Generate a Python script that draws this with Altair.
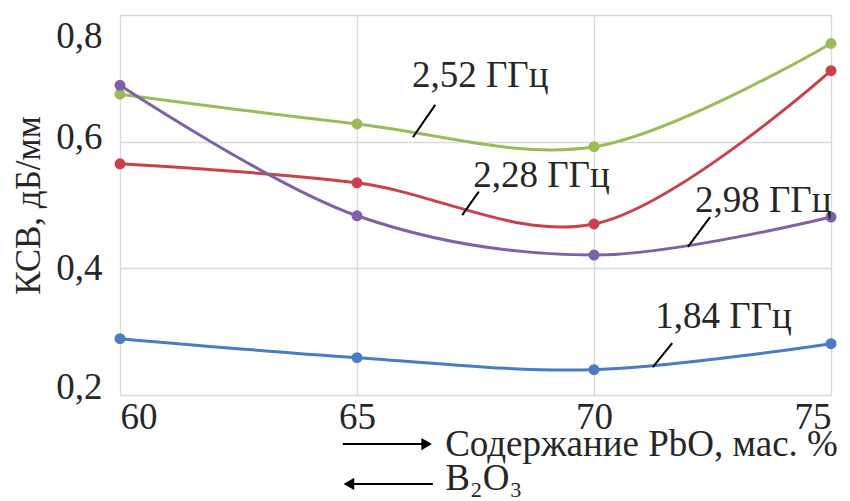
import altair as alt
import pandas as pd

x_vals = [60, 65, 70, 75]
series_names = ["1,84 ГГц", "2,28 ГГц", "2,52 ГГц", "2,98 ГГц"]
s184 = [0.289, 0.259, 0.240, 0.281]
s228 = [0.565, 0.535, 0.470, 0.712]
s252 = [0.675, 0.628, 0.592, 0.755]
s298 = [0.689, 0.483, 0.421, 0.481]
colors = ["#4A7BC4", "#C9414B", "#9BBB59", "#7E62A8"]

rows = []
for name, vals in zip(series_names, [s184, s228, s252, s298]):
    for xv, yv in zip(x_vals, vals):
        rows.append({"x": xv, "y": yv, "s": name})
df = pd.DataFrame(rows)

# series annotations (label position and leader line, data units)
lab_text = ["2,52 ГГц", "2,28 ГГц", "2,98 ГГц", "1,84 ГГц"]
lab_x = [66.16, 67.45, 72.13, 71.29]
lab_y = [0.686, 0.528, 0.489, 0.306]
lead_x1 = [66.65, 67.57, 72.45, 71.65]
lead_y1 = [0.658, 0.521, 0.481, 0.282]
lead_x2 = [66.18, 67.22, 71.98, 71.24]
lead_y2 = [0.607, 0.484, 0.434, 0.244]
labels = pd.DataFrame({"t": lab_text, "x": lab_x, "y": lab_y})
leaders = pd.DataFrame({"x": lead_x1, "y": lead_y1, "x2": lead_x2, "y2": lead_y2})

# x-axis composite title: arrows and texts
arr_x1 = [64.70, 64.78]
arr_x2 = [66.50, 66.60]
arr_y = [0.1226, 0.0595]
head_x = [66.47, 64.83]
head_shape = ["triangle-right", "triangle-left"]
title_text = ["Содержание PbO, мас. %", "B₂O₃"]
title_x = [66.86, 66.86]
title_y = [0.1037, 0.050]
arrows = pd.DataFrame({"x": arr_x1, "x2": arr_x2, "y": arr_y})
heads = pd.DataFrame({"x": head_x, "y": arr_y, "shape": head_shape})
titles = pd.DataFrame({"t": title_text, "x": title_x, "y": title_y})

FONT = "Liberation Serif"
TXT = "#262626"
xs = alt.Scale(domain=[60, 75], nice=False, zero=False)
ys = alt.Scale(domain=[0.2, 0.8], nice=False, zero=False)

base = alt.Chart(df).encode(
    x=alt.X("x:Q", scale=xs, axis=alt.Axis(
        values=x_vals, title=None, format="d", labelFont=FONT, labelFontSize=37,
        labelColor=TXT, labelFlush=True, labelPadding=4, ticks=False,
        domain=False, gridColor="#D9D9D9", gridWidth=1.3)),
    y=alt.Y("y:Q", scale=ys, axis=alt.Axis(
        values=[0.2, 0.4, 0.6, 0.8], title="КСВ, дБ/мм", titleFont=FONT,
        titleFontSize=35, titleFontWeight="normal", titleColor=TXT, titlePadding=9,
        labelExpr="replace(format(datum.value, '.1f'), '.', ',')",
        labelFont=FONT, labelFontSize=37, labelColor=TXT, labelPadding=18,
        labelOffset={"condition": [{"test": "datum.value >= 0.79", "value": 21},
                                   {"test": "datum.value <= 0.21", "value": -8},
                                   {"test": "datum.value >= 0.59", "value": -4}],
                     "value": 0},
        ticks=False, domain=False, gridColor="#D9D9D9", gridWidth=1.3)),
    color=alt.Color("s:N", scale=alt.Scale(domain=series_names, range=colors), legend=None),
)

lines = base.mark_line(interpolate="catmull-rom", strokeWidth=3)
points = base.mark_circle(size=120, opacity=1)

lead = alt.Chart(leaders).mark_rule(color="black", strokeWidth=2).encode(
    x="x:Q", y="y:Q", x2="x2:Q", y2="y2:Q")
labs = alt.Chart(labels).mark_text(font=FONT, fontSize=37, align="left",
                                   baseline="alphabetic", color=TXT).encode(
    x="x:Q", y="y:Q", text="t:N")
arr = alt.Chart(arrows).mark_rule(color="black", strokeWidth=2).encode(
    x="x:Q", x2="x2:Q", y="y:Q")
hd = alt.Chart(heads).mark_point(filled=True, color="black", size=150, opacity=1).encode(
    x="x:Q", y="y:Q", shape=alt.Shape("shape:N", scale=None))
tt = alt.Chart(titles).mark_text(font=FONT, fontSize=37, align="left",
                                 baseline="alphabetic", color=TXT).encode(
    x="x:Q", y="y:Q", text="t:N")

chart = alt.layer(lines, points, lead, labs, arr, hd, tt).properties(
    width=711, height=380,
    autosize=alt.AutoSizeParams(type="none"),
    padding={"left": 112, "top": 7, "right": 11, "bottom": 106},
).configure_view(stroke="#D9D9D9", strokeWidth=1.3).configure(background="white")

chart.save("out.html", embed_options={"renderer": "svg", "actions": False})
